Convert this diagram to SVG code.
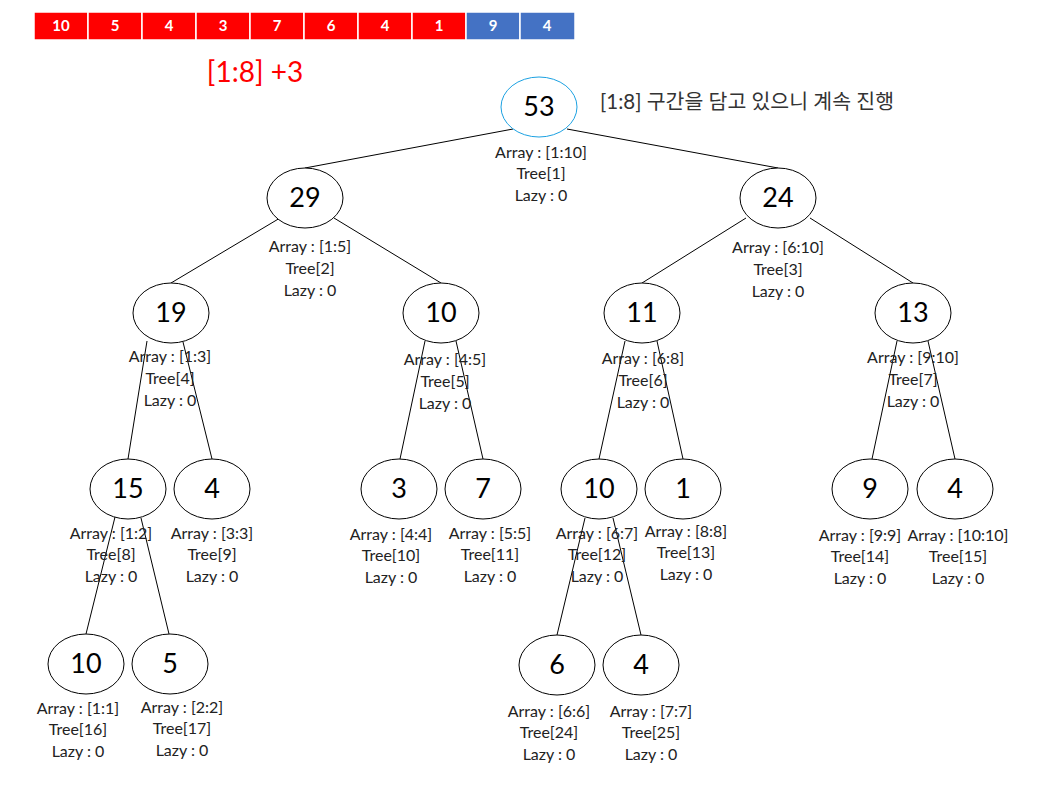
<svg xmlns="http://www.w3.org/2000/svg" width="1054" height="785" viewBox="0 0 1054 785">
<style>
.cell{stroke:#fff;stroke-width:1.5}
.r{fill:#ff0000}.b{fill:#4472c4}
.ct{font-family:Lato,"Liberation Sans",sans-serif;font-weight:bold;font-size:15px;fill:#fff;text-anchor:middle}
.n ellipse{fill:#fff;stroke:#000;stroke-width:1}
.num{font-family:Lato,"Liberation Sans",sans-serif;font-size:27px;fill:#000;text-anchor:middle}
.lb{font-family:Lato,"Liberation Sans",sans-serif;font-size:16px;fill:#222;text-anchor:middle}
.e line{stroke:#000;stroke-width:1}
</style>
<rect width="1054" height="785" fill="#fff"/>
<g id="array">
<rect class="cell r" x="34" y="12" width="54" height="28"/><text class="ct" x="61" y="31">10</text>
<rect class="cell r" x="88" y="12" width="54" height="28"/><text class="ct" x="115" y="31">5</text>
<rect class="cell r" x="142" y="12" width="54" height="28"/><text class="ct" x="169" y="31">4</text>
<rect class="cell r" x="196" y="12" width="54" height="28"/><text class="ct" x="223" y="31">3</text>
<rect class="cell r" x="250" y="12" width="54" height="28"/><text class="ct" x="277" y="31">7</text>
<rect class="cell r" x="304" y="12" width="54" height="28"/><text class="ct" x="331" y="31">6</text>
<rect class="cell r" x="358" y="12" width="54" height="28"/><text class="ct" x="385" y="31">4</text>
<rect class="cell r" x="412" y="12" width="54" height="28"/><text class="ct" x="439" y="31">1</text>
<rect class="cell b" x="466" y="12" width="54" height="28"/><text class="ct" x="493" y="31">9</text>
<rect class="cell b" x="520" y="12" width="55" height="28"/><text class="ct" x="547" y="31">4</text>
</g>
<text x="255" y="82" font-family="Lato,'Liberation Sans',sans-serif" font-size="28" fill="#ff0000" text-anchor="middle">[1:8] +3</text>
<text x="600" y="109" font-family="Lato,'Noto Sans CJK KR',sans-serif" font-size="20.5" fill="#333">[1:8] 구간을 담고 있으니 계속 진행</text>
<g id="edges" class="e">
<line x1="513" y1="129" x2="305" y2="168"/>
<line x1="567" y1="129" x2="778" y2="168"/>
<line x1="280" y1="218" x2="171" y2="283"/>
<line x1="334" y1="218" x2="441" y2="283"/>
<line x1="746" y1="218" x2="642" y2="283"/>
<line x1="810" y1="218" x2="913" y2="283"/>
<line x1="147" y1="341" x2="128" y2="459"/>
<line x1="183" y1="342" x2="212" y2="459"/>
<line x1="425" y1="341" x2="400" y2="459"/>
<line x1="456" y1="341" x2="483" y2="459"/>
<line x1="625" y1="341" x2="599" y2="459"/>
<line x1="657" y1="341" x2="683" y2="459"/>
<line x1="897" y1="341" x2="872" y2="459"/>
<line x1="928" y1="341" x2="955" y2="459"/>
<line x1="115" y1="517" x2="86" y2="634"/>
<line x1="141" y1="518" x2="169" y2="634"/>
<line x1="585" y1="518" x2="557" y2="635"/>
<line x1="613" y1="518" x2="641" y2="635"/>
</g>
<g id="n1" class="n"><ellipse cx="539" cy="107" rx="38" ry="30" style="stroke:#1ba1e2"/><text class="num" x="539" y="116">53</text>
<text class="lb"><tspan x="541" y="158">Array : [1:10]</tspan><tspan x="541" y="179">Tree[1]</tspan><tspan x="541" y="201">Lazy : 0</tspan></text></g>
<g id="n2" class="n"><ellipse cx="305" cy="198" rx="38" ry="30"/><text class="num" x="305" y="207">29</text>
<text class="lb"><tspan x="310" y="252">Array : [1:5]</tspan><tspan x="310" y="274">Tree[2]</tspan><tspan x="310" y="296">Lazy : 0</tspan></text></g>
<g id="n3" class="n"><ellipse cx="778" cy="198" rx="38" ry="30"/><text class="num" x="778" y="207">24</text>
<text class="lb"><tspan x="778" y="253">Array : [6:10]</tspan><tspan x="778" y="275">Tree[3]</tspan><tspan x="778" y="297">Lazy : 0</tspan></text></g>
<g id="n4" class="n"><ellipse cx="171" cy="313" rx="38" ry="30"/><text class="num" x="171" y="322">19</text>
<text class="lb"><tspan x="170" y="362">Array : [1:3]</tspan><tspan x="170" y="384">Tree[4]</tspan><tspan x="170" y="406">Lazy : 0</tspan></text></g>
<g id="n5" class="n"><ellipse cx="441" cy="313" rx="38" ry="30"/><text class="num" x="441" y="322">10</text>
<text class="lb"><tspan x="445" y="365">Array : [4:5]</tspan><tspan x="445" y="387">Tree[5]</tspan><tspan x="445" y="409">Lazy : 0</tspan></text></g>
<g id="n6" class="n"><ellipse cx="642" cy="313" rx="38" ry="30"/><text class="num" x="642" y="322">11</text>
<text class="lb"><tspan x="643" y="364">Array : [6:8]</tspan><tspan x="643" y="386">Tree[6]</tspan><tspan x="643" y="408">Lazy : 0</tspan></text></g>
<g id="n7" class="n"><ellipse cx="913" cy="313" rx="38" ry="30"/><text class="num" x="913" y="322">13</text>
<text class="lb"><tspan x="913" y="363">Array : [9:10]</tspan><tspan x="913" y="385">Tree[7]</tspan><tspan x="913" y="407">Lazy : 0</tspan></text></g>
<g id="n8" class="n"><ellipse cx="128" cy="489" rx="38" ry="30"/><text class="num" x="128" y="498">15</text>
<text class="lb"><tspan x="111" y="539">Array : [1:2]</tspan><tspan x="111" y="560">Tree[8]</tspan><tspan x="111" y="582">Lazy : 0</tspan></text></g>
<g id="n9" class="n"><ellipse cx="212" cy="489" rx="38" ry="30"/><text class="num" x="212" y="498">4</text>
<text class="lb"><tspan x="212" y="539">Array : [3:3]</tspan><tspan x="212" y="560">Tree[9]</tspan><tspan x="212" y="582">Lazy : 0</tspan></text></g>
<g id="n10" class="n"><ellipse cx="399" cy="489" rx="38" ry="30"/><text class="num" x="399" y="498">3</text>
<text class="lb"><tspan x="391" y="540">Array : [4:4]</tspan><tspan x="391" y="561">Tree[10]</tspan><tspan x="391" y="583">Lazy : 0</tspan></text></g>
<g id="n11" class="n"><ellipse cx="483" cy="489" rx="38" ry="30"/><text class="num" x="483" y="498">7</text>
<text class="lb"><tspan x="490" y="539">Array : [5:5]</tspan><tspan x="490" y="560">Tree[11]</tspan><tspan x="490" y="582">Lazy : 0</tspan></text></g>
<g id="n12" class="n"><ellipse cx="599" cy="489" rx="38" ry="30"/><text class="num" x="599" y="498">10</text>
<text class="lb"><tspan x="597" y="539">Array : [6:7]</tspan><tspan x="597" y="560">Tree[12]</tspan><tspan x="597" y="582">Lazy : 0</tspan></text></g>
<g id="n13" class="n"><ellipse cx="683" cy="489" rx="38" ry="30"/><text class="num" x="683" y="498">1</text>
<text class="lb"><tspan x="686" y="537">Array : [8:8]</tspan><tspan x="686" y="558">Tree[13]</tspan><tspan x="686" y="580">Lazy : 0</tspan></text></g>
<g id="n14" class="n"><ellipse cx="870" cy="489" rx="38" ry="30"/><text class="num" x="870" y="498">9</text>
<text class="lb"><tspan x="860" y="541">Array : [9:9]</tspan><tspan x="860" y="562">Tree[14]</tspan><tspan x="860" y="584">Lazy : 0</tspan></text></g>
<g id="n15" class="n"><ellipse cx="955" cy="489" rx="38" ry="30"/><text class="num" x="955" y="498">4</text>
<text class="lb"><tspan x="958" y="541">Array : [10:10]</tspan><tspan x="958" y="562">Tree[15]</tspan><tspan x="958" y="584">Lazy : 0</tspan></text></g>
<g id="n16" class="n"><ellipse cx="86" cy="664" rx="38" ry="30"/><text class="num" x="86" y="673">10</text>
<text class="lb"><tspan x="78" y="714">Array : [1:1]</tspan><tspan x="78" y="735">Tree[16]</tspan><tspan x="78" y="757">Lazy : 0</tspan></text></g>
<g id="n17" class="n"><ellipse cx="170" cy="664" rx="38" ry="30"/><text class="num" x="170" y="673">5</text>
<text class="lb"><tspan x="182" y="713">Array : [2:2]</tspan><tspan x="182" y="734">Tree[17]</tspan><tspan x="182" y="756">Lazy : 0</tspan></text></g>
<g id="n24" class="n"><ellipse cx="557" cy="665" rx="38" ry="30"/><text class="num" x="557" y="674">6</text>
<text class="lb"><tspan x="549" y="717">Array : [6:6]</tspan><tspan x="549" y="738">Tree[24]</tspan><tspan x="549" y="760">Lazy : 0</tspan></text></g>
<g id="n25" class="n"><ellipse cx="641" cy="665" rx="38" ry="30"/><text class="num" x="641" y="674">4</text>
<text class="lb"><tspan x="651" y="717">Array : [7:7]</tspan><tspan x="651" y="738">Tree[25]</tspan><tspan x="651" y="760">Lazy : 0</tspan></text></g>
</svg>
